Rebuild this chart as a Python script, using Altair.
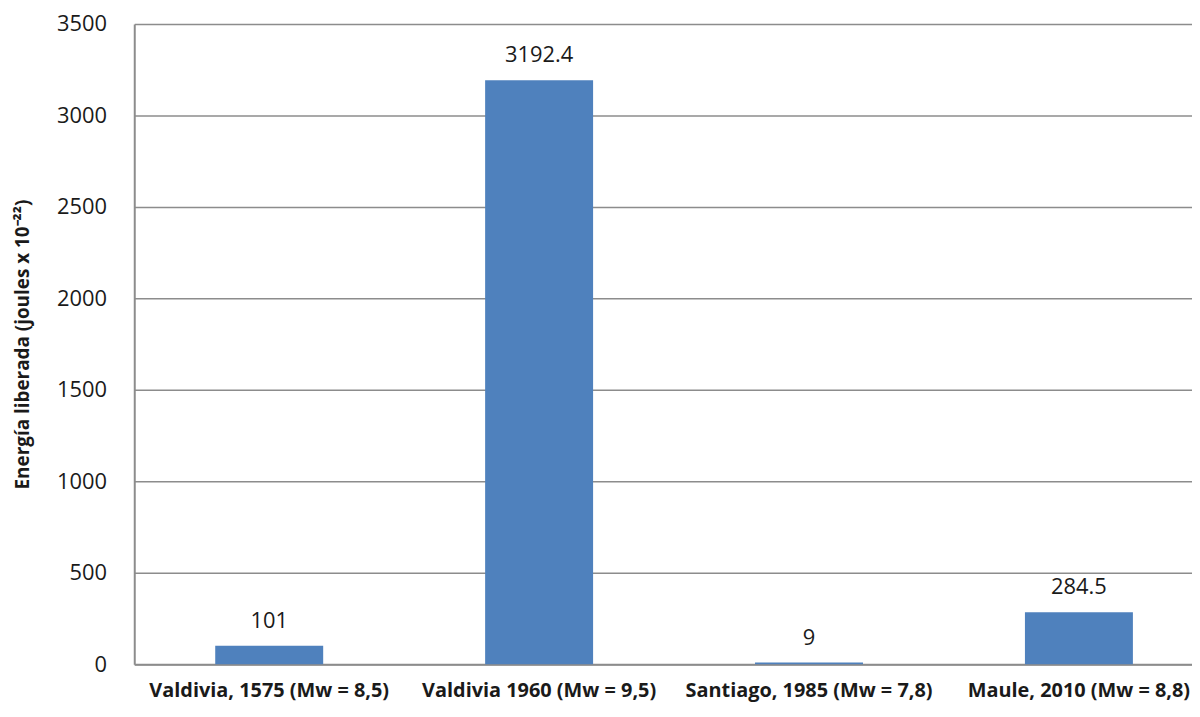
import altair as alt
import pandas as pd

categories = [
    "Valdivia, 1575 (Mw = 8,5)",
    "Valdivia 1960 (Mw = 9,5)",
    "Santiago, 1985 (Mw =  7,8)",
    "Maule, 2010 (Mw = 8,8)",
]
values = [101, 3192.4, 9, 284.5]
labels = ["101", "3192.4", "9", "284.5"]

df = pd.DataFrame({"cat": categories, "val": values, "lab": labels})

FONT = "Open Sans"

x = alt.X(
    "cat:N",
    sort=categories,
    title=None,
    scale=alt.Scale(paddingInner=0.6, paddingOuter=0.3, range=[0, 1086]),
    axis=alt.Axis(
        labelAngle=0,
        labelFont=FONT,
        labelFontSize=20,
        labelFontWeight="bold",
        labelColor="#1a1a1a",
        labelPadding=17,
        ticks=False,
        domainColor="#8c8c8c",
        domainWidth=2,
        labelLimit=400,
    ),
)
y = alt.Y(
    "val:Q",
    title="Energía liberada  (joules x 10⁻²²)",
    scale=alt.Scale(domain=[0, 3500], nice=False),
    axis=alt.Axis(
        values=[0, 500, 1000, 1500, 2000, 2500, 3000, 3500],
        format="d",
        labelFont=FONT,
        labelFontSize=22,
        labelColor="#1a1a1a",
        labelPadding=28,
        ticks=False,
        domainColor="#8c8c8c",
        domainWidth=2,
        gridColor="#8c8c8c",
        gridWidth=1.5,
        titleFont=FONT,
        titleFontSize=19,
        titleFontWeight="bold",
        titleColor="#1a1a1a",
        titlePadding=24,
    ),
)

bars = alt.Chart(df).mark_bar(color="#4F81BD").encode(x=x, y=y)
text = alt.Chart(df).mark_text(
    baseline="alphabetic", dy=-18, font=FONT, fontSize=22, color="#1a1a1a"
).encode(x=alt.X("cat:N", sort=categories), y="val:Q", text="lab:N")

chart = (
    alt.layer(bars, text)
    .properties(
        width=1064,
        height=644,
        autosize=alt.AutoSizeParams(type="none"),
        padding={"left": 127, "top": 14, "right": 0, "bottom": 42},
    )
    .configure_view(stroke=None)
)

chart.save("out.html", embed_options={"renderer": "svg", "actions": False})
